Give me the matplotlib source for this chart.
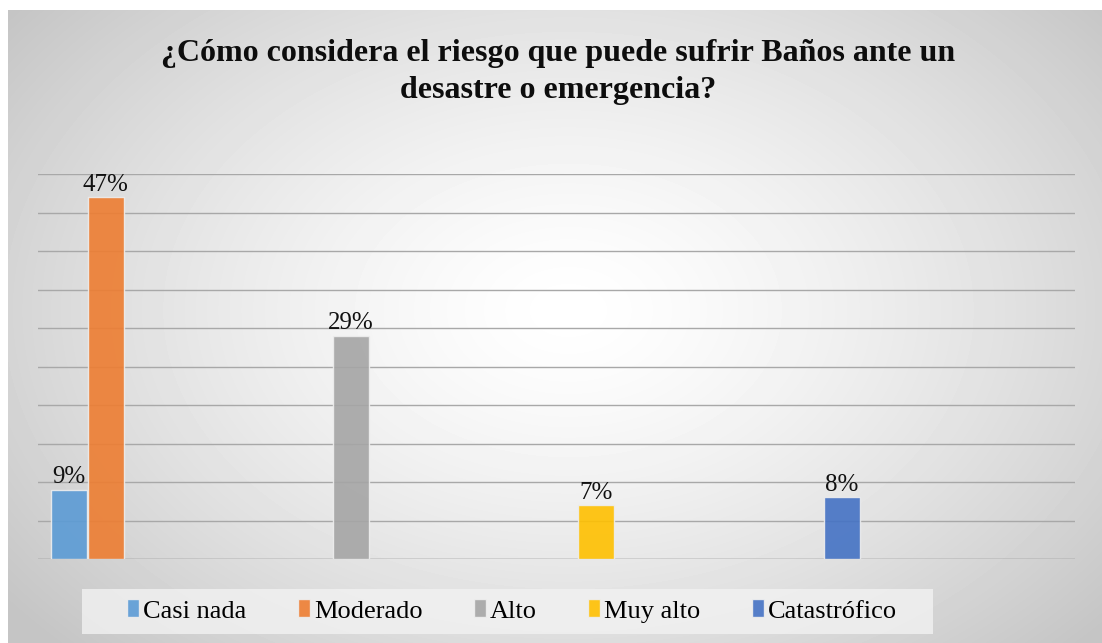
import numpy as np
import matplotlib.pyplot as plt
from matplotlib.patches import Rectangle

categories = ["Casi nada", "Moderado", "Alto", "Muy alto", "Catastrófico"]
values = [9, 47, 29, 7, 8]
labels = ["9%", "47%", "29%", "7%", "8%"]
colors = ["#5B9BD5", "#ED7D31", "#A5A5A5", "#FFC000", "#4472C4"]

plt.rcParams['font.family'] = ['Liberation Serif', 'DejaVu Serif']

W, H = 1102, 643
fig = plt.figure(figsize=(W / 100, H / 100), dpi=100)
fig.patch.set_facecolor("white")

# radial grey background of the chart frame
bg = fig.add_axes([8 / W, 0, 1 - 8 / W, 1 - 10 / H])
yy, xx = np.mgrid[0:633, 0:1094]
r = np.hypot((xx - 560) / 640.0, (yy - 300) / 440.0)
shade = np.clip(1.0 - 0.2 * r ** 1.4, 0.77, 1.0)
bg.imshow(shade, cmap="gray", vmin=0, vmax=1, aspect="auto", interpolation="bilinear")
bg.set_axis_off()

ax = fig.add_axes([38 / W, (H - 559) / H, (1075 - 38) / W, (559 - 174) / H])
ax.patch.set_alpha(0)

# bars: first two side by side, the rest one per group
g = 6.68
pos = [0, 1, 1 + g, 1 + 2 * g, 1 + 3 * g]
bars = ax.bar(pos, values, width=0.98, color=colors, alpha=0.9,
              edgecolor="#eeeeee", linewidth=1, zorder=3)
for b, lab in zip(bars, labels):
    ax.text(b.get_x() + b.get_width() / 2, b.get_height() + 0.2, lab,
            ha="center", va="bottom", fontsize=18, color="#111111", zorder=4)

ax.set_xlim(-0.85, 27.4)
ax.set_ylim(0, 50)
ax.set_yticks(np.arange(0, 51, 5))
ax.yaxis.grid(True, color="#a8a8a8", linewidth=1, zorder=0)
ax.tick_params(left=False, bottom=False, labelleft=False, labelbottom=False)
for s in ax.spines.values():
    s.set_visible(False)
ax.axhline(0, color="#a0a0a0", linewidth=1, zorder=2)

fig.text(558 / W, 1 - 72 / H,
         "¿Cómo considera el riesgo que puede sufrir Baños ante un\ndesastre o emergencia?",
         ha="center", va="center", fontsize=23, fontweight="bold",
         linespacing=1.4, color="#0d0d0d")

# legend box
fig.patches.append(Rectangle((82 / W, 1 - 634 / H), (933 - 82) / W, 45 / H,
                             transform=fig.transFigure, facecolor="#f2f2f2",
                             edgecolor="none", alpha=0.8))
handles = [Rectangle((0, 0), 1, 1, facecolor=c, alpha=0.9, edgecolor="#eeeeee")
           for c in colors]
fig.legend(handles, categories, loc="center", bbox_to_anchor=(512 / W, 1 - 611 / H),
           ncol=5, frameon=False, fontsize=19, handlelength=0.45, handleheight=0.65,
           handletextpad=0.15, columnspacing=1.95)

fig.savefig("out.png", dpi=100)
